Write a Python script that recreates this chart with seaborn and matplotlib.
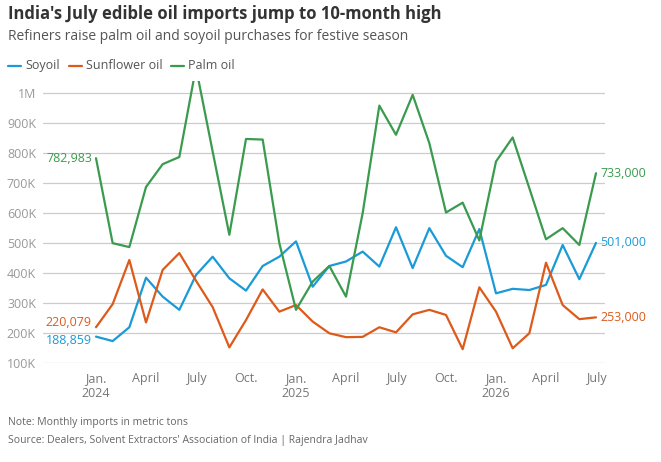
import numpy as np
import pandas as pd
import matplotlib
matplotlib.use("Agg")
import matplotlib.pyplot as plt
import seaborn as sns

months = pd.date_range("2024-01-01", periods=31, freq="MS").strftime("%Y-%m").tolist()
soyoil = [188859, 174000, 220000, 385000, 322000, 278000, 394000, 455000, 383000, 342000,
          424000, 455000, 506000, 355000, 424000, 439000, 472000, 422000, 553000, 417000,
          550000, 458000, 420000, 547000, 333000, 348000, 344000, 361000, 494000, 380000, 501000]
sunflower = [220079, 297000, 444000, 236000, 411000, 467000, 375000, 287000, 153000, 244000,
             346000, 272000, 294000, 239000, 200000, 187000, 188000, 220000, 203000, 263000,
             278000, 261000, 147000, 353000, 272000, 150000, 200000, 435000, 294000, 247000, 253000]
palm = [782983, 500000, 487000, 687000, 763000, 787000, 1085000, 805000, 528000, 847000,
        845000, 500000, 278000, 372000, 424000, 322000, 600000, 958000, 861000, 994000,
        833000, 602000, 635000, 509000, 772000, 852000, 683000, 513000, 550000, 494000, 733000]
series_names = ["Soyoil", "Sunflower oil", "Palm oil"]
colors = ["#1a9ad6", "#dd5a1b", "#3a9b4f"]
tick_idx = [0, 3, 6, 9, 12, 15, 18, 21, 24, 27, 30]
tick_labels = ["Jan.\n2024", "April", "July", "Oct.", "Jan.\n2025", "April", "July", "Oct.",
               "Jan.\n2026", "April", "July"]
y_ticks = [100000, 200000, 300000, 400000, 500000, 600000, 700000, 800000, 900000, 1000000]
y_labels = ["100K", "200K", "300K", "400K", "500K", "600K", "700K", "800K", "900K", "1M"]

df = pd.DataFrame({"month": months, "idx": np.arange(len(months)),
                   "Soyoil": soyoil, "Sunflower oil": sunflower, "Palm oil": palm})
long = df.melt(id_vars=["month", "idx"], value_vars=series_names,
               var_name="series", value_name="tons")

sns.set_theme(style="white")
plt.rcParams["font.family"] = ["Open Sans", "DejaVu Sans"]

fig = plt.figure(figsize=(6.61, 4.62), dpi=100)
ax = fig.add_axes([43/661, 1-363.3/462, (605-43)/661, (363.3-81)/462])

sns.lineplot(data=long, x="idx", y="tons", hue="series", hue_order=series_names,
             palette=colors, linewidth=1.6, ax=ax, legend=False)

ax.set_xlim(-3.18, 30.54)
ax.set_ylim(100000, 1040000)
ax.set_yticks(y_ticks)
ax.set_yticklabels(y_labels)
ax.set_xticks(tick_idx)
ax.set_xticklabels(tick_labels)
ax.set_xlabel("")
ax.set_ylabel("")
for s in ax.spines.values():
    s.set_visible(False)
ax.grid(axis="y", color="#cccccc", linewidth=0.9)
ax.set_axisbelow(True)
ax.tick_params(axis="y", length=0, pad=5, labelsize=9, labelcolor="#999999")
ax.tick_params(axis="x", length=0, pad=6, labelsize=9, labelcolor="#777777")
for lab in ax.get_yticklabels():
    lab.set_horizontalalignment("right")

# end labels
first = {"Soyoil": soyoil[0], "Sunflower oil": sunflower[0], "Palm oil": palm[0]}
last = {"Soyoil": soyoil[-1], "Sunflower oil": sunflower[-1], "Palm oil": palm[-1]}
first_dy = {"Soyoil": -2.5, "Sunflower oil": 3.5, "Palm oil": 0}
for name, c in zip(series_names, colors):
    ax.annotate(f"{first[name]:,}", xy=(0, first[name]), xytext=(-3, first_dy[name]),
                textcoords="offset points", ha="right", va="center",
                color=c, fontsize=9)
    ax.annotate(f"{last[name]:,}", xy=(30, last[name]), xytext=(3, 0),
                textcoords="offset points", ha="left", va="center",
                color=c, fontsize=9, annotation_clip=False)

fig.text(8/661, 1-14/462, "India's July edible oil imports jump to 10-month high",
         fontsize=12, fontweight="bold", color="#333333", va="center", ha="left")
fig.text(8/661, 1-37/462, "Refiners raise palm oil and soyoil purchases for festive season",
         fontsize=10, color="#555555", va="center", ha="left")

# legend
lx = 8
for name, c in zip(series_names, colors):
    fig.lines.append(plt.Line2D([lx/661, (lx+13)/661], [1-66/462, 1-66/462],
                                color=c, linewidth=1.6, transform=fig.transFigure))
    t = fig.text((lx+17)/661, 1-66/462, name, fontsize=9, color="#555555",
                 va="center", ha="left")
    fig.canvas.draw()
    bb = t.get_window_extent()
    lx = bb.x1 + 9

fig.text(8/661, 1-422/462, "Note: Monthly imports in metric tons",
         fontsize=7.5, color="#666666", va="center", ha="left")
fig.text(8/661, 1-441/462, "Source: Dealers, Solvent Extractors' Association of India | Rajendra Jadhav",
         fontsize=7.5, color="#666666", va="center", ha="left")

fig.savefig("out.png", dpi=100)
